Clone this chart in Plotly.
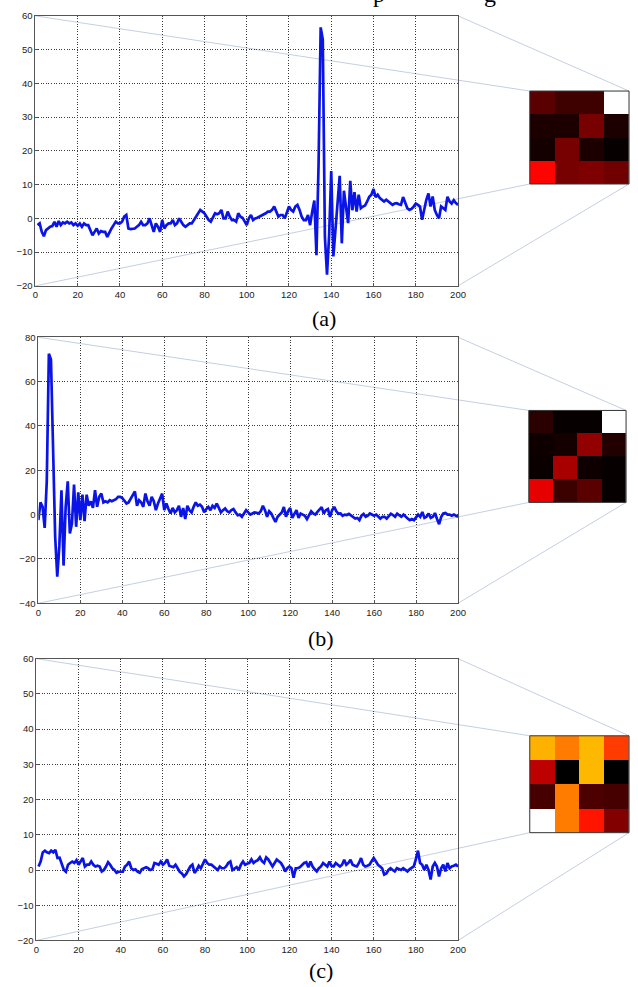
import plotly.graph_objects as go

# ---------------- data ----------------
x_a = list(range(1, 201))
y_a = [
    -2, -1.5, -4, -5.3, -3.5, -3, -2.5, -2.3, -1, -2.5,
    -0.8, -2, -1.2, -1.5, -1, -1.5, -1.2, -2, -1.5, -2.2,
    -1.5, -2.5, -1.5, -2, -2, -3.5, -5, -4, -3, -4.5,
    -3.8, -4, -4, -5.5, -4, -3, -2, -1, -1.5, -1.5,
    -1, 0.5, 1, -3, -3.2, -3, -3, -2.5, -2, -1,
    -2, -2, -1.5, 0, -2, -4, -1.5, -2.5, -4, -0.5,
    -3, -2, -1.5, -1.5, -0.5, -2, -1.5, 0, -1, -2,
    -2.5, -2, -1.5, -1.5, -0.5, 0.5, 1.5, 2.5, 2, 1.5,
    0.5, -0.5, -1, 0.5, 1.5, 1.2, 1.5, 2.5, 0, 0,
    2, 0.5, -0.5, -0.5, -1, 1.5, 0.5, 0.2, -1, -2,
    0, 1, -0.5, 0, 0.2, 0.5, 1, 1.2, 1.5, 2,
    2, 2.5, 3.5, 2, 0.5, 1, 1, 0, 1.5, 3.5,
    2.5, 2, 3.5, 4, 2.5, 0.5, -0.5, -0.5, 1, -2,
    2, 5.3, -10.9, 16, 56.6, 53, -5.5, -16.7, -5, 14,
    -11.3, -4, 5, 12.6, -7.4, 8.2, 3.3, -1.4, 11.1, 2.4,
    7.8, 2, 7, 3, 3.5, 3.8, 5, 6.4, 7, 8.7,
    6.3, 7, 6, 5.5, 5, 5.5, 5, 4.5, 4, 4.4,
    4.5, 4.2, 4, 6.3, 4.5, 3, 2.5, 2.8, 3.5, 4.4,
    4, 3.5, -0.4, 3, 5.5, 7.4, 3.5, 6.5, 2.5, 1,
    0, 3.5, 3, 2.5, 6.4, 5, 4.4, 5.4, 4.5, 4,
]

x_b = list(range(0, 201))
y_b = [
    -2.5, 5.5, 3.5, -6, 15, 72.6, 70, 25, -10, -28,
    -14, 11, -23, 3.4, 15, -8.5, -4, 13.5, -5.5, 10,
    -2.5, 9, -3, 9, 4, 6, 3, 11, 3.5, 8,
    9.5, 5.5, 6, 5.5, 6.5, 6, 6.5, 7, 8, 8,
    7.5, 6, 5, 5.5, 7, 9, 10.5, 4, 6.5, 5.5,
    3.5, 9.5, 6, 4, 8, 6, 2, 5, 7, 9.5,
    2, 5, 2.5, 0.5, 3, 1, 2, 4, -1, 3,
    -2, 4, 2, 1, 3.5, 5.5, 4, 4.5, 3.5, 1,
    2.5, 3.5, 2, 4, 3, 5, 3, 1, 2, 2.8,
    1.5, 1, 2, 2.5, 1, -0.3, 0, -1, 0.5, 2,
    1, 0, 0.5, 1, 0.8, 0.5, 1.5, 4, 2, -1,
    1.5, 0.5, -1.5, -3.3, -1, 0, 1, 3.4, -1, 1.5,
    3, -1.5, 0.5, 2, -1.5, 0.5, 0, -0.5, -2, 0,
    1.5, 0.5, 0, 1.2, 2.5, 3.4, 0.5, 2, 2.5, -1,
    2, 3.5, 1.5, 0.4, 0.5, -0.5, 0, -0.2, 0.3, -0.5,
    -1, -1.8, -1.5, -2.5, -0.5, 0.3, -1, -0.5, 0.5, 0,
    -0.5, 0, -1, -1.8, -1, -1, -1.8, -0.5, 0.4, -0.2,
    -1, 0.4, -0.5, -1, 0, -1, -1.8, -2.5, -2, -2.5,
    -1, 0, -1, 1.2, -1.5, -1, 0.5, -1.5, -1, 0.7,
    -2, -4.3, -1, 0.5, 0.7, 0, 0, -0.5, 0, -0.5, -1,
]

x_c = list(range(1, 201))
y_c = [
    1, 2.4, 5, 5.5, 5, 4.8, 5.5, 5, 5.7, 3.4,
    3.5, 2, 0.1, -0.5, 1.5, 2, 2.4, 2, 2.8, 1.5,
    2.5, 3.4, 1, 1.5, 1.5, 2.4, 1.5, 1, 1.2, 1,
    -0.4, 0, 1, 2.2, 1.5, 0.5, 0, -0.8, -0.5, -0.4,
    -0.5, 1, 1.5, 2.4, 0.5, 0, 0.2, -0.5, -0.8, 0.2,
    0.5, 0.8, 0.5, 0, 0.2, 2, 1.8, 1.5, 2.4, 1.5,
    2, 3, 1.2, 1, 0.8, 1.5, 0.5, -0.5, -1, -1.8,
    -1.2, 0, 1, 1.5, -0.8, 0, 1.2, 0.5, 2, 3,
    2, 1.5, 1.5, 1, 0.5, 0, 1, 0.5, 0.5, 1,
    2, 2.4, 0, 0.5, 0.8, 0, 1.5, 2.4, 1.5, 1.8,
    2, 3, 2, 2.5, 2.8, 3.6, 2.5, 2, 3.6, 3,
    2, 1, 2, 3, 2.5, 2, 1, -0.4, 0.5, 1,
    0.5, -2.2, 0.5, 0.5, 0.8, 1.5, 2, 2.2, 0.8, 2.4,
    1, 0.2, -0.4, 0.5, 1, 2, 1.5, 1, 2.4, 1.2,
    1, 2, 1.5, 1, 1.5, 2.9, 1.5, 2, 2.9, 1.5,
    1.2, 1, 2, 3.4, 1.5, 1, 1.2, 1.5, 2.5, 3.4,
    2.5, 1.5, 1, 0.5, -1.3, -1, 0, 0.5, 0, -0.4,
    0.5, 0.2, 0, 0.5, 0, -0.4, 0.2, 0.5, 1, 3,
    5.5, 2, 1.5, 0, 1.5, 0, -2.7, 1, 2, 1,
    -1.8, 0.5, 1.5, -0.4, 2, 0.5, 1, 1.2, 1.5, 1,
]

heat_a = [
    [0.13, 0.09, 0.09, 1.00],
    [0.04, 0.04, 0.17, 0.04],
    [0.03, 0.17, 0.04, 0.01],
    [0.37, 0.17, 0.18, 0.16],
]
heat_b = [
    [0.06, 0.01, 0.01, 1.00],
    [0.02, 0.03, 0.21, 0.05],
    [0.015, 0.24, 0.02, 0.01],
    [0.33, 0.085, 0.13, 0.01],
]
heat_c = [
    [0.63, 0.55, 0.64, 0.455],
    [0.27, 0.00, 0.64, 0.00],
    [0.10, 0.55, 0.11, 0.10],
    [1.00, 0.55, 0.395, 0.186],
]

panel_labels = ["(a)", "(b)", "(c)"]
y_ranges = [(-20, 60), (-40, 80), (-20, 60)]
y_dticks = [10, 20, 10]
x_range = (0, 200)
x_dtick = 20

# ---------------- layout geometry (pixels) ----------------
W, H = 638, 987
plot_boxes = [(33, 463, 10, 283), (36, 463, 335, 604), (34, 463, 660, 945)]   # l, r, t, b
heat_boxes = [(536, 637, 86, 180), (535, 634, 409, 502), (536, 637, 738, 836)]
label_pos = [(327, 316), (324, 640), (324, 975)]


def fx(p):
    return p / W


def fy(p):
    return 1 - p / H


hot = [[0.0, "rgb(0,0,0)"], [0.365, "rgb(255,0,0)"],
       [0.746, "rgb(255,255,0)"], [1.0, "rgb(255,255,255)"]]

fig = go.Figure()
series = [(x_a, y_a), (x_b, y_b), (x_c, y_c)]
heats = [heat_a, heat_b, heat_c]
shapes = []
annotations = []
layout = {}

for i in range(3):
    n = i + 1
    xs = "" if n == 1 else str(n)
    hx = str(n + 3)
    l, r, t, b = plot_boxes[i]
    hl, hr, ht, hb = heat_boxes[i]

    # connecting "zoom" lines (drawn first, below traces)
    for (p0, p1) in [((l, t), (hl, ht)), ((r, t), (hr, ht)),
                     ((l, b), (hl, hb)), ((r, b), (hr, hb))]:
        shapes.append(dict(type="line", xref="paper", yref="paper",
                           x0=fx(p0[0]), y0=fy(p0[1]), x1=fx(p1[0]), y1=fy(p1[1]),
                           line=dict(color="rgba(150,168,200,0.7)", width=0.8),
                           layer="below"))

    xs_data, ys_data = series[i]
    fig.add_trace(go.Scatter(x=xs_data, y=ys_data, mode="lines",
                             line=dict(color="#0a14e6", width=2.7),
                             xaxis="x" + xs, yaxis="y" + xs,
                             showlegend=False, hoverinfo="skip"))

    fig.add_trace(go.Heatmap(z=heats[i], colorscale=hot, zmin=0, zmax=1,
                             showscale=False, xaxis="x" + hx, yaxis="y" + hx,
                             hoverinfo="skip"))

    axis_common = dict(showgrid=True, gridcolor="#3a3a3a", griddash="1px,1.6px", gridwidth=0.8,
                       zeroline=False, showline=True, linecolor="#555", linewidth=1,
                       mirror=True, ticks="inside", ticklen=3, tickcolor="#555",
                       tickfont=dict(family="Liberation Sans, Arial", size=9.5, color="#222"))
    layout["xaxis" + xs] = dict(domain=[fx(l), fx(r)], range=list(x_range), dtick=x_dtick,
                                tick0=0, anchor="y" + xs, **axis_common)
    layout["yaxis" + xs] = dict(domain=[fy(b), fy(t)], range=list(y_ranges[i]),
                                dtick=y_dticks[i], tick0=0, anchor="x" + xs, **axis_common)
    layout["xaxis" + hx] = dict(domain=[fx(hl), fx(hr)], visible=False, anchor="y" + hx)
    layout["yaxis" + hx] = dict(domain=[fy(hb), fy(ht)], visible=False, anchor="x" + hx,
                                autorange="reversed")
    shapes.append(dict(type="rect", xref="x" + hx + " domain", yref="y" + hx + " domain",
                       x0=0, x1=1, y0=0, y1=1, line=dict(color="#333", width=1)))

    lx, ly = label_pos[i]
    annotations.append(dict(text=panel_labels[i], x=fx(lx), y=fy(ly), xref="paper",
                            yref="paper", showarrow=False, xanchor="center", yanchor="middle",
                            font=dict(family="Liberation Serif, Times New Roman", size=22,
                                      color="black")))

# cut-off caption text at the very top of the page (only descenders visible, as in the source)
for ch, px in [("p", 383), ("g", 496)]:
    annotations.append(dict(text=ch, x=fx(px), y=fy(3), xref="paper", yref="paper",
                            showarrow=False, xanchor="center", yanchor="bottom",
                            font=dict(family="Liberation Serif, Times New Roman", size=24,
                                      color="black")))

fig.update_layout(width=W, height=H, margin=dict(l=0, r=0, t=0, b=0),
                  paper_bgcolor="white", plot_bgcolor="rgba(0,0,0,0)",
                  shapes=shapes, annotations=annotations, **layout)

fig.write_html("out.html", config={"displayModeBar": False},
               post_script="document.body.style.margin='0px';")
